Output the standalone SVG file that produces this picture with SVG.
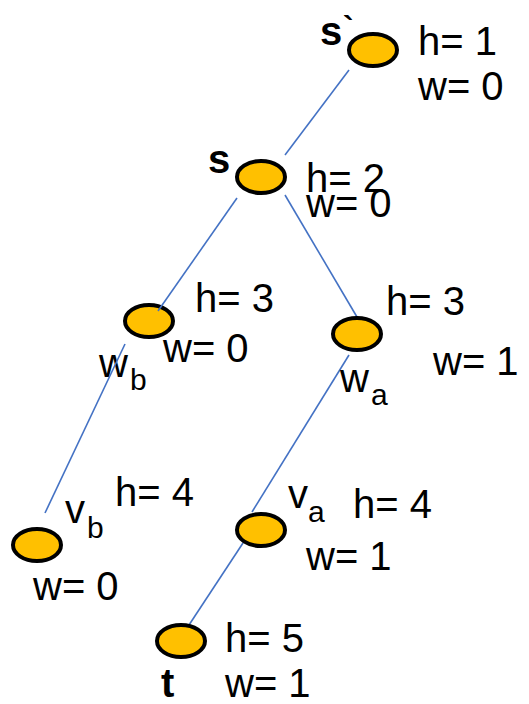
<svg xmlns="http://www.w3.org/2000/svg" width="529" height="704" viewBox="0 0 529 704">
<style>
.n{fill:#FFC000;stroke:#000;stroke-width:4}
.e{stroke:#4472C4;stroke-width:1.6;fill:none}
text{font-family:"Liberation Sans",Arial,sans-serif;font-size:40px;fill:#000}
.b{font-weight:bold}
.sub{font-size:30px}
</style>
<rect width="529" height="704" fill="#fff"/>
<g id="edges-under">
<line class="e" x1="349" y1="70" x2="285" y2="155"/>
<line class="e" x1="285" y1="195" x2="357" y2="317"/>
<line class="e" x1="349" y1="355" x2="252" y2="512"/>
<line class="e" x1="243" y1="543" x2="189" y2="625"/>
</g>
<g id="n-s1"><ellipse class="n" cx="373" cy="50" rx="24" ry="16"/><text class="b" x="320" y="45">s</text><text class="b" x="343" y="38" style="font-size:32px">`</text><text x="418" y="55">h= 1</text><text x="418" y="100">w= 0</text></g>
<g id="n-s"><ellipse class="n" cx="261" cy="177" rx="24" ry="16"/><text class="b" x="208" y="173">s</text><text x="306" y="192">h= 2</text><text x="306" y="217">w= 0</text></g>
<g id="n-wb"><ellipse class="n" cx="149" cy="321" rx="24" ry="16"/><text x="99" y="377">w</text><text class="sub" x="130" y="390">b</text><text x="195" y="312">h= 3</text><text x="163" y="362">w= 0</text></g>
<g id="n-wa"><ellipse class="n" cx="357" cy="334" rx="24" ry="16"/><text x="340" y="392">w</text><text class="sub" x="371" y="405">a</text><text x="386" y="315">h= 3</text><text x="433" y="375">w= 1</text></g>
<g id="n-vb"><ellipse class="n" cx="37" cy="545" rx="24" ry="16"/><text x="65" y="523">v</text><text class="sub" x="87" y="538">b</text><text x="115" y="506">h= 4</text><text x="33" y="600">w= 0</text></g>
<g id="n-va"><ellipse class="n" cx="261" cy="530" rx="24" ry="16"/><text x="288" y="508">v</text><text class="sub" x="308" y="522">a</text><text x="353" y="518">h= 4</text><text x="306" y="570">w= 1</text></g>
<g id="n-t"><ellipse class="n" cx="181" cy="641" rx="24" ry="16"/><text class="b" x="161" y="697">t</text><text x="225" y="652">h= 5</text><text x="225" y="697">w= 1</text></g>
<g id="edges-over">
<line class="e" x1="237" y1="198" x2="158" y2="311"/>
<line class="e" x1="125" y1="344" x2="45" y2="513"/>
</g>
</svg>
